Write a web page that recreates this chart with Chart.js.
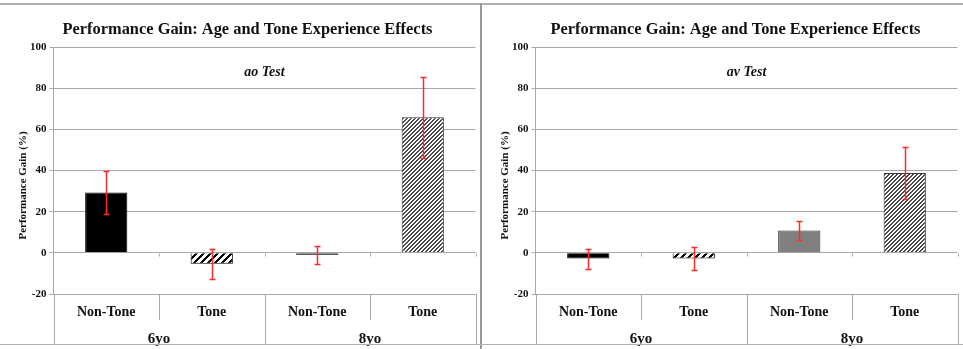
<!DOCTYPE html>
<html>
<head>
<meta charset="utf-8">
<script src="https://cdn.jsdelivr.net/npm/chart.js@4/dist/chart.umd.min.js"></script>
<style>
  html, body { margin: 0; padding: 0; background: #fff; }
  #wrap { position: relative; width: 963px; height: 349px; overflow: hidden; }
  #wrap canvas { position: absolute; top: 0; }
  .rule { position: absolute; background: #b0b0b0; }
</style>
</head>
<body>
<div id="wrap">
  <canvas id="chartAo" width="481" height="349" style="left:0"></canvas>
  <canvas id="chartAv" width="481" height="349" style="left:482px"></canvas>
  <div class="rule" style="left:0;top:3px;width:963px;height:2px"></div>
  <div class="rule" style="left:480px;top:3px;width:2px;height:346px;background:#9a9a9a"></div>
  <div class="rule" style="left:0;top:344px;width:963px;height:1px"></div>
</div>
<script>
const categories = ['Non-Tone', 'Tone', 'Non-Tone', 'Tone'];
const groups = ['6yo', '8yo'];
const chartTitle = 'Performance Gain: Age and Tone Experience Effects';
const yTitle = 'Performance Gain (%)';

// ao Test
const aoMeans = [29.3, -5.3, -1.1, 65.9];
const aoErrors = [10.3, 7.4, 4.2, 19.6];
// av Test
const avMeans = [-2.8, -2.8, 10.8, 38.8];
const avErrors = [4.9, 5.4, 4.6, 12.6];

const SERIF = '"Liberation Serif", "Times New Roman", serif';
const LINE = '#a8a8a8';

// pixel hatch, "/" stripes
function _hatch(color, size, dark) {
  const c = document.createElement('canvas');
  c.width = size; c.height = size;
  const g = c.getContext('2d');
  g.fillStyle = '#fff';
  g.fillRect(0, 0, size, size);
  g.fillStyle = color;
  for (let py = 0; py < size; py++) {
    for (let px = 0; px < size; px++) {
      if ((px + py) % size < dark) g.fillRect(px, py, 1, 1);
    }
  }
  return g.createPattern(c, 'repeat');
}

const panelDecor = {
  id: 'panelDecor',
  afterDatasetsDraw(chart, args, opts) {
    const { ctx, scales: { x, y } } = chart;
    const means = chart.data.datasets[0].data;
    ctx.save();
    ctx.strokeStyle = '#ff2a2a';
    ctx.lineWidth = 1.5;
    means.forEach((m, i) => {
      const e = opts.errors[i];
      const xc = Math.round(x.getPixelForValue(i)) + 0.5;
      const yt = Math.round(y.getPixelForValue(m + e)) + 0.5;
      const yb = Math.round(y.getPixelForValue(m - e)) + 0.5;
      ctx.beginPath();
      ctx.moveTo(xc, yt); ctx.lineTo(xc, yb);
      ctx.moveTo(xc - 3, yt); ctx.lineTo(xc + 3, yt);
      ctx.moveTo(xc - 3, yb); ctx.lineTo(xc + 3, yb);
      ctx.stroke();
    });
    ctx.restore();
  },
  afterDraw(chart, args, opts) {
    const { ctx, chartArea: a, scales: { x, y } } = chart;
    const n = categories.length;
    const per = n / groups.length;
    const y0 = Math.round(y.getPixelForValue(0)) + 0.5;
    const bottom = chart.height - 4;
    ctx.save();
    ctx.strokeStyle = LINE;
    ctx.lineWidth = 1;
    ctx.beginPath();
    for (let i = 0; i <= n; i++) {
      const bx = Math.round(a.left + i * (a.right - a.left) / n) + 0.5;
      if (i > 0) { ctx.moveTo(bx, y0); ctx.lineTo(bx, y0 + 3); }
      ctx.moveTo(bx, a.bottom);
      ctx.lineTo(bx, i % per === 0 ? bottom : x.bottom);
    }
    ctx.stroke();

    ctx.fillStyle = '#111';
    ctx.textAlign = 'center';
    ctx.textBaseline = 'middle';
    ctx.font = 'bold 16.4px ' + SERIF;
    ctx.fillText(chartTitle, (a.left + a.right) / 2 + opts.titleShift, 30);
    ctx.font = 'italic bold 14px ' + SERIF;
    ctx.fillText(opts.subtitle, (a.left + a.right) / 2, a.top + 25);
    ctx.translate(23, (a.top + a.bottom) / 2 + 15);
    ctx.rotate(-Math.PI / 2);
    ctx.font = 'bold 11px ' + SERIF;
    ctx.fillText(yTitle, 0, 0);
    ctx.restore();
  }
};

function makeChart(id, subtitle, means, errors, colors, borders, titleShift) {
  return new Chart(document.getElementById(id).getContext('2d'), {
    type: 'bar',
    data: {
      labels: categories,
      datasets: [{
        label: subtitle,
        data: means,
        backgroundColor: colors,
        borderColor: borders,
        borderWidth: 1,
        categoryPercentage: 1,
        barPercentage: 0.4
      }]
    },
    options: {
      responsive: false,
      animation: false,
      layout: { padding: { top: 47, right: 5.5, bottom: 0, left: 0 } },
      plugins: {
        legend: { display: false },
        tooltip: { enabled: false },
        panelDecor: { subtitle, errors, titleShift }
      },
      scales: {
        y: {
          min: -20, max: 100,
          ticks: { stepSize: 20, padding: 3, color: '#111', font: { family: SERIF, size: 11, weight: 'bold' } },
          grid: { color: LINE, tickLength: 4 },
          border: { color: LINE },
          afterFit: s => { s.width = 53.5; }
        },
        x: {
          offset: true,
          grid: { display: false, drawTicks: false },
          border: { display: false },
          ticks: { padding: 10, color: '#111', font: { family: SERIF, size: 14, weight: 'bold' } },
          afterFit: s => { s.height = 26; }
        },
        x2: {
          type: 'category',
          labels: groups,
          position: 'bottom',
          offset: true,
          grid: { display: false, drawTicks: false },
          border: { display: false },
          ticks: { padding: 10, color: '#111', font: { family: SERIF, size: 15, weight: 'bold' } },
          afterFit: s => { s.height = 29; }
        }
      }
    },
    plugins: [panelDecor]
  });
}

const thickBlack = _hatch('#000', 7, 3);
const fineGray = _hatch('#4a4a4a', 4, 2);

makeChart('chartAo', 'ao Test', aoMeans, aoErrors,
  ['#000', thickBlack, '#404040', fineGray],
  ['#000', '#000', '#333', '#333'], -17);
makeChart('chartAv', 'av Test', avMeans, avErrors,
  ['#000', thickBlack, '#808080', fineGray],
  ['#000', '#000', '#333', '#333'], -11);
</script>
</body>
</html>
